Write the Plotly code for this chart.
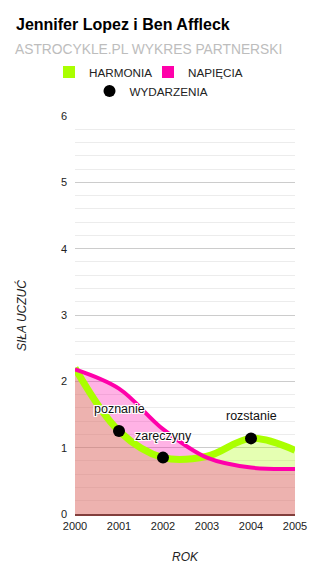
import plotly.graph_objects as go

# ---- data ----
years = [2000, 2001, 2002, 2003, 2004, 2005]
harmonia = [2.20, 1.25, 0.85, 0.87, 1.14, 0.96]
napiecia = [2.18, 1.89, 1.28, 0.85, 0.70, 0.68]
event_years = [2001, 2002, 2004]
event_values = [1.25, 0.85, 1.14]
event_labels = ["poznanie", "zaręczyny", "rozstanie"]
y_ticks = [0, 1, 2, 3, 4, 5, 6]

GREEN = "#aaff00"
PINK = "#ff00aa"
FONT = "Liberation Sans, Arial, sans-serif"

W, H = 311, 581
L, R, T, B = 75, 295, 116, 514


def px_x(px):
    return (px - L) / (R - L)


def px_y(py):
    return (B - py) / (B - T)


fig = go.Figure()

# fills (green below, pink on top)
fig.add_trace(go.Scatter(x=years, y=harmonia, mode="lines", line=dict(width=0, shape="spline", color=GREEN),
                         fill="tozeroy", fillcolor="rgba(170,255,0,0.3)", showlegend=False, hoverinfo="skip"))
fig.add_trace(go.Scatter(x=years, y=napiecia, mode="lines", line=dict(width=0, shape="spline", color=PINK),
                         fill="tozeroy", fillcolor="rgba(255,0,170,0.3)", showlegend=False, hoverinfo="skip"))
# lines
fig.add_trace(go.Scatter(x=years, y=harmonia, mode="lines", line=dict(width=7, shape="spline", color=GREEN),
                         showlegend=False))
fig.add_trace(go.Scatter(x=years, y=napiecia, mode="lines", line=dict(width=4, shape="spline", color=PINK),
                         showlegend=False))
# events
fig.add_trace(go.Scatter(x=event_years, y=event_values, mode="markers",
                         marker=dict(size=12, color="black"), name="WYDARZENIA", legend="legend2"))

# legend proxies
fig.add_trace(go.Scatter(x=[None], y=[None], mode="markers", name="HARMONIA",
                         marker=dict(symbol="square", size=12, color=GREEN), legend="legend"))
fig.add_trace(go.Scatter(x=[None], y=[None], mode="markers", name="NAPIĘCIA",
                         marker=dict(symbol="square", size=12, color=PINK), legend="legend"))

shadow = "1px 1px 0 #fff, -1px -1px 0 #fff, 1px -1px 0 #fff, -1px 1px 0 #fff, 0 1px 0 #fff, 0 -1px 0 #fff, 1px 0 0 #fff, -1px 0 0 #fff"
annotations = []
for ex, ey, lab in zip(event_years, event_values, event_labels):
    annotations.append(dict(x=ex, y=ey, xref="x", yref="y", text=lab, showarrow=False, yshift=22,
                            font=dict(size=12.5, color="#111", family=FONT, shadow=shadow)))

annotations.append(dict(xref="paper", yref="paper", x=px_x(13), y=px_y(49), xanchor="left", yanchor="middle",
                        text="ASTROCYKLE.PL WYKRES PARTNERSKI", showarrow=False,
                        font=dict(size=13.8, color="#bdbdbd", family=FONT)))
annotations.append(dict(xref="paper", yref="paper", x=px_x(21), y=px_y(316), xanchor="center", yanchor="middle",
                        text="<i>SIŁA UCZUĆ</i>", textangle=-90, showarrow=False,
                        font=dict(size=12, color="#222", family=FONT)))
annotations.append(dict(xref="paper", yref="paper", x=px_x(185.5), y=px_y(557), xanchor="center", yanchor="middle",
                        text="<i>ROK</i>", showarrow=False,
                        font=dict(size=12, color="#222", family=FONT)))

fig.update_layout(
    width=W, height=H,
    margin=dict(l=L, r=W - R, t=T, b=H - B, pad=0, autoexpand=False),
    paper_bgcolor="white", plot_bgcolor="white",
    font=dict(family=FONT, size=12, color="#222"),
    title=dict(text="<b>Jennifer Lopez i Ben Affleck</b>", x=16 / W, xref="container", xanchor="left",
               y=1 - 24 / H, yref="container", yanchor="middle",
               font=dict(size=16, color="#000", family=FONT)),
    xaxis=dict(range=[2000, 2005], tickvals=years, ticktext=[str(y) for y in years], showgrid=False,
               zeroline=False, showline=True, linecolor="rgb(130,62,60)", linewidth=1.5, ticks="",
               tickfont=dict(size=11, color="#222"), ticklabelstandoff=1, automargin=False),
    yaxis=dict(range=[0, 6], tickvals=y_ticks, showgrid=True, gridcolor="#cccccc", gridwidth=1,
               zeroline=False, ticks="", tickfont=dict(size=11, color="#222"), ticklabelstandoff=7,
               automargin=False,
               minor=dict(dtick=0.2, showgrid=True, gridcolor="#ececec", gridwidth=1)),
    legend=dict(orientation="h", x=px_x(148), xanchor="center", y=px_y(72), yanchor="middle",
                font=dict(size=11.7, color="#222"), bgcolor="rgba(0,0,0,0)", tracegroupgap=0,
                entrywidth=54),
    legend2=dict(orientation="h", x=px_x(151.5), xanchor="center", y=px_y(91), yanchor="middle",
                 font=dict(size=11.7, color="#222"), bgcolor="rgba(0,0,0,0)", itemsizing="constant"),
    annotations=annotations,
    showlegend=True,
)

fig.write_html("out.html")
